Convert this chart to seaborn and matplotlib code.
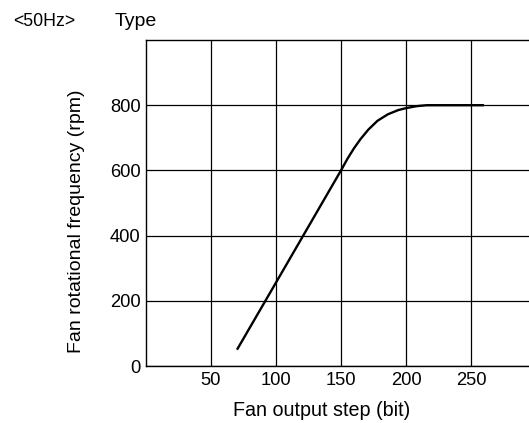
import matplotlib
matplotlib.use("Agg")
import matplotlib.pyplot as plt
import seaborn as sns
import pandas as pd

# Fan output step (bit) vs. fan rotational frequency (rpm), 50 Hz supply
fan_step = [70, 100, 125, 150, 155, 160, 165, 171, 178, 186, 194, 200, 208, 216, 260]
fan_rpm = [50, 256, 428, 600, 636, 668, 696, 725, 752, 772, 785, 791, 797, 800, 800]

x_ticks = [50, 100, 150, 200, 250]
y_ticks = [0, 200, 400, 600, 800]

sns.set_theme(style="white")
plt.rcParams["font.family"] = ["Liberation Sans", "DejaVu Sans"]

W, H = 529, 423
fig = plt.figure(figsize=(W / 100, H / 100), dpi=100)
left, right, top, bottom = 146, 529, 40, 366
ax = fig.add_axes([left / W, 1 - bottom / H, (right - left) / W, (bottom - top) / H])

df = pd.DataFrame({"step": fan_step, "rpm": fan_rpm})
sns.lineplot(data=df, x="step", y="rpm", ax=ax, color="black", linewidth=1.7,
             sort=False, estimator=None, solid_joinstyle="round", solid_capstyle="butt")

ax.set_xlim(0, 294.6)
ax.set_ylim(0, 1000)
ax.set_xticks(x_ticks)
ax.set_yticks(y_ticks)
ax.set_xticklabels([str(v) for v in x_ticks])
ax.set_yticklabels([str(v) for v in y_ticks])
ax.tick_params(axis="both", length=0, labelsize=13.2, colors="black")
ax.tick_params(axis="x", pad=4)
ax.tick_params(axis="y", pad=4)

ax.grid(True, color="black", linewidth=0.9)
ax.set_axisbelow(True)
for side in ["left", "bottom", "top"]:
    ax.spines[side].set_visible(True)
    ax.spines[side].set_color("black")
    ax.spines[side].set_linewidth(1.0)
ax.spines["right"].set_visible(False)

ax.set_xlabel("Fan output step (bit)", fontsize=14.2, color="black", va="center")
ax.set_ylabel("Fan rotational frequency (rpm)", fontsize=14, color="black", va="center")
ax.xaxis.set_label_coords((322 - left) / (right - left), -(410 - bottom) / (bottom - top))
ax.yaxis.set_label_coords(-(left - 77) / (right - left), (bottom - 221) / (bottom - top))

fig.text(13 / W, 1 - 22 / H, "<50Hz>", fontsize=12.7, ha="left", va="center", color="black")
fig.text(115 / W, 1 - 22 / H, "Type", fontsize=14, ha="left", va="center", color="black")

fig.savefig("out.png", dpi=100)
